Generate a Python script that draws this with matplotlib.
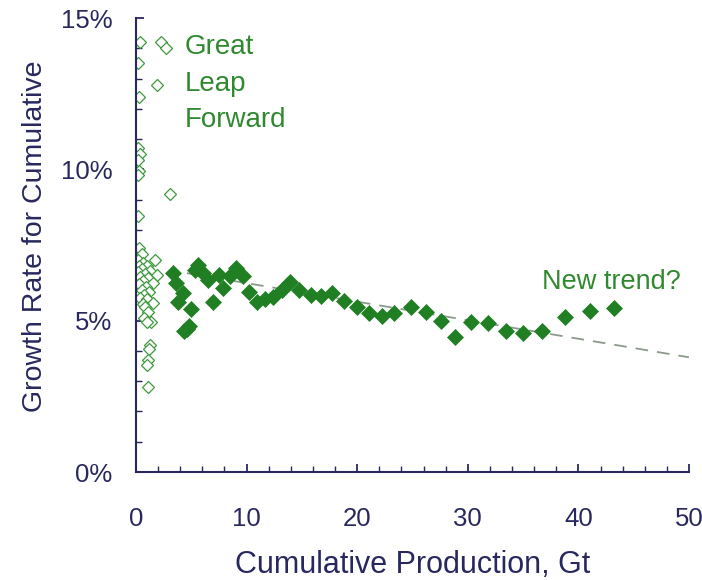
import matplotlib
matplotlib.use("Agg")
import matplotlib.pyplot as plt
from matplotlib.ticker import MultipleLocator, FuncFormatter

# Early years (open markers): cumulative production (Gt) vs growth rate (%)
early_x = [0.4, 0.2, 0.3, 2.3, 2.7, 1.9,
           0.2, 0.4, 0.2, 0.3, 0.2, 3.1,
           0.2, 0.3, 0.5, 0.2, 1.7, 0.6, 0.3, 1.0, 0.5, 1.3, 0.2, 0.8,
           1.9, 0.4, 1.1, 0.6, 1.5, 0.3, 0.9, 0.5, 1.2, 0.7, 0.4, 1.0,
           1.5, 0.6, 0.8, 1.1, 0.7, 1.4, 1.0, 1.3, 1.2, 1.1, 1.0, 1.1]
early_y = [14.2, 13.5, 12.4, 14.2, 14.0, 12.8,
           10.7, 10.5, 10.3, 9.95, 9.8, 9.2,
           8.45, 7.4, 7.2, 7.0, 7.0, 6.9, 6.8, 6.8, 6.7, 6.65, 6.6, 6.55,
           6.5, 6.45, 6.4, 6.3, 6.25, 6.2, 6.1, 6.0, 5.95, 5.85, 5.75, 5.7,
           5.6, 5.55, 5.45, 5.3, 5.1, 4.95, 4.95, 4.2, 4.05, 3.7, 3.55, 2.8]

# Later years (filled markers)
late_x = [3.35, 3.62, 4.25, 3.80, 4.97, 4.61, 4.34, 4.79, 5.61, 5.33,
          6.06, 6.51, 6.96, 7.50, 7.87, 8.50, 9.04, 9.67, 10.22, 10.94,
          11.66, 12.39, 13.20, 13.92, 14.74, 15.82, 16.73, 17.72, 18.81, 19.98,
          21.07, 22.24, 23.33, 24.86, 26.22, 27.58, 28.84, 30.29, 31.83, 33.45,
          34.99, 36.71, 38.79, 41.05, 43.22]
late_y = [6.57, 6.24, 5.91, 5.62, 5.39, 4.72, 4.66, 4.82, 6.84, 6.67,
          6.57, 6.34, 5.62, 6.51, 6.08, 6.48, 6.74, 6.48, 5.95, 5.62,
          5.72, 5.78, 6.01, 6.28, 6.01, 5.85, 5.81, 5.91, 5.65, 5.45,
          5.25, 5.15, 5.25, 5.45, 5.29, 4.99, 4.46, 4.96, 4.92, 4.66,
          4.59, 4.66, 5.12, 5.32, 5.42]

# Linear trend (endpoints)
trend_x = [4.6, 50.0]
trend_y = [6.57, 3.79]

x_ticks = [0, 10, 20, 30, 40, 50]
y_ticks = [0, 5, 10, 15]

navy = "#28285f"
green = "#1f7f22"
label_green = "#2f8a2f"

plt.rcParams["font.family"] = ["Liberation Sans", "DejaVu Sans"]

fig = plt.figure(figsize=(7.02, 5.80), dpi=100)
ax = fig.add_axes([136 / 702, 1 - 472 / 580, (689 - 136) / 702, (472 - 18) / 580])

ax.plot(trend_x, trend_y, linestyle=(0, (7, 5)), color="#8c9a8c", lw=1.3, zorder=1)
ax.plot(early_x, early_y, linestyle="none", marker="D", markersize=6,
        markerfacecolor="white", markeredgecolor="#3c9a3c", markeredgewidth=0.9, zorder=2)
ax.plot(late_x, late_y, linestyle="none", marker="D", markersize=7.8,
        markerfacecolor=green, markeredgecolor=green, markeredgewidth=0.5, zorder=3)

ax.set_xlim(0, 50)
ax.set_ylim(0, 15)
ax.set_xticks(x_ticks)
ax.set_yticks(y_ticks)
ax.xaxis.set_minor_locator(MultipleLocator(2))
ax.yaxis.set_minor_locator(MultipleLocator(1))
ax.yaxis.set_major_formatter(FuncFormatter(lambda v, p: f"{v:.0f}%"))

for s in ["top", "right"]:
    ax.spines[s].set_visible(False)
for s in ["left", "bottom"]:
    ax.spines[s].set_color(navy)
    ax.spines[s].set_linewidth(1.5)

ax.tick_params(axis="both", which="both", direction="in", color=navy, labelcolor=navy,
               labelsize=18.5)
ax.tick_params(axis="both", which="major", length=6, width=1.3)
ax.tick_params(axis="both", which="minor", length=4, width=1.0)
ax.tick_params(axis="x", which="major", pad=25)
ax.tick_params(axis="y", which="major", pad=17)

ax.set_xlabel("Cumulative Production, Gt", fontsize=22, color=navy)
ax.xaxis.set_label_coords(0.5, -0.172)
ax.set_ylabel("Growth Rate for Cumulative", fontsize=20.5, color=navy)
ax.yaxis.set_label_coords(-0.159, 0.52)

ax.text(4.4, 14.04, "Great", fontsize=20, color=label_green, va="center", ha="left")
ax.text(4.4, 12.82, "Leap", fontsize=20, color=label_green, va="center", ha="left")
ax.text(4.4, 11.63, "Forward", fontsize=20, color=label_green, va="center", ha="left")
ax.text(42.95, 6.28, "New trend?", fontsize=19.5, color=label_green, va="center", ha="center")

fig.savefig("out.png", dpi=100)
